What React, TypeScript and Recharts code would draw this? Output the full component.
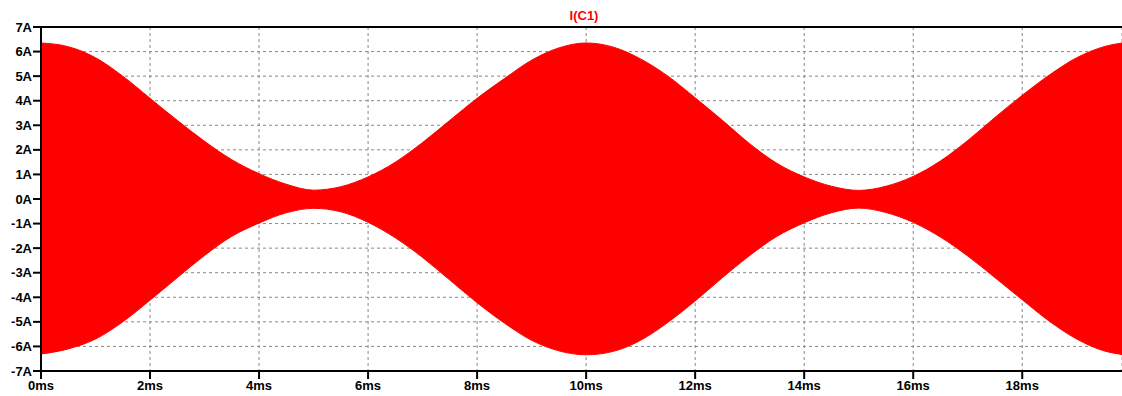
import { ComposedChart, Area, XAxis, YAxis, CartesianGrid, ReferenceLine } from 'recharts';

// time in ms, envelope of I(C1) in A
const timeMs = [
  0, 0.5, 1, 1.5, 2, 2.5, 3, 3.5, 4, 4.5, 5, 5.5, 6, 6.5, 7, 7.5, 8, 8.5, 9, 9.5,
  10, 10.5, 11, 11.5, 12, 12.5, 13, 13.5, 14, 14.5, 15, 15.5, 16, 16.5, 17, 17.5, 18, 18.5, 19, 19.5, 19.83,
];
const upper = [
  6.35, 6.2, 5.75, 5.0, 4.1, 3.2, 2.35, 1.6, 1.03, 0.6, 0.36, 0.5, 0.9, 1.5, 2.3, 3.2, 4.1, 4.9, 5.65, 6.15,
  6.35, 6.18, 5.7, 5.0, 4.12, 3.2, 2.25, 1.45, 0.9, 0.52, 0.35, 0.52, 0.92, 1.55, 2.38, 3.32, 4.22, 5.05, 5.75, 6.2, 6.35,
];
const lower = [
  -6.31, -6.1, -5.7, -5.0, -4.12, -3.2, -2.3, -1.52, -0.98, -0.56, -0.38, -0.52, -0.95, -1.58, -2.38, -3.3, -4.22, -5.05, -5.75, -6.18,
  -6.34, -6.2, -5.75, -5.02, -4.15, -3.2, -2.3, -1.52, -0.97, -0.56, -0.37, -0.55, -0.95, -1.55, -2.32, -3.2, -4.1, -4.98, -5.7, -6.18, -6.33,
];

const xTicks = [0, 2, 4, 6, 8, 10, 12, 14, 16, 18];
const yTicks = [-7, -6, -5, -4, -3, -2, -1, 0, 1, 2, 3, 4, 5, 6, 7];

const data = timeMs.map((t, i) => ({ t, range: [lower[i], upper[i]] }));

const tickFont = { fontFamily: '"Liberation Sans", Arial, sans-serif', fontWeight: 700, fontSize: 13, fill: '#000' };

export default function App() {
  return (
    <div style={{ position: 'absolute', left: 0, top: 0, width: 1122, height: 396, background: '#fff' }}>
      <div
        style={{
          position: 'absolute',
          left: 534,
          width: 100,
          top: 8,
          textAlign: 'center',
          color: '#ff0000',
          fontFamily: '"Liberation Sans", Arial, sans-serif',
          fontWeight: 700,
          fontSize: 13,
        }}
      >
        I(C1)
      </div>
      <ComposedChart width={1122} height={396} data={data} margin={{ top: 27, right: 0, bottom: 0, left: 0 }}>
        <CartesianGrid stroke="#888" strokeDasharray="3 3" />
        <XAxis
          dataKey="t"
          type="number"
          domain={[0, 19.83]}
          ticks={xTicks}
          tickFormatter={(v) => `${v}ms`}
          height={25}
          tickSize={8}
          axisLine={{ stroke: '#000', strokeWidth: 2 }}
          tickLine={{ stroke: '#000', strokeWidth: 2 }}
          tick={tickFont}
          interval={0}
          allowDataOverflow
        />
        <YAxis
          type="number"
          domain={[-7, 7]}
          ticks={yTicks}
          tickFormatter={(v) => `${v}A`}
          width={41}
          tickSize={8}
          tickMargin={1}
          axisLine={{ stroke: '#000', strokeWidth: 2 }}
          tickLine={{ stroke: '#000', strokeWidth: 2 }}
          tick={tickFont}
          interval={0}
        />
        <ReferenceLine y={7} stroke="#000" strokeWidth={2} />
        <Area
          dataKey="range"
          type="monotone"
          fill="#ff0000"
          fillOpacity={1}
          stroke="#ff0000"
          strokeWidth={1}
          isAnimationActive={false}
          dot={false}
          activeDot={false}
        />
      </ComposedChart>
    </div>
  );
}
